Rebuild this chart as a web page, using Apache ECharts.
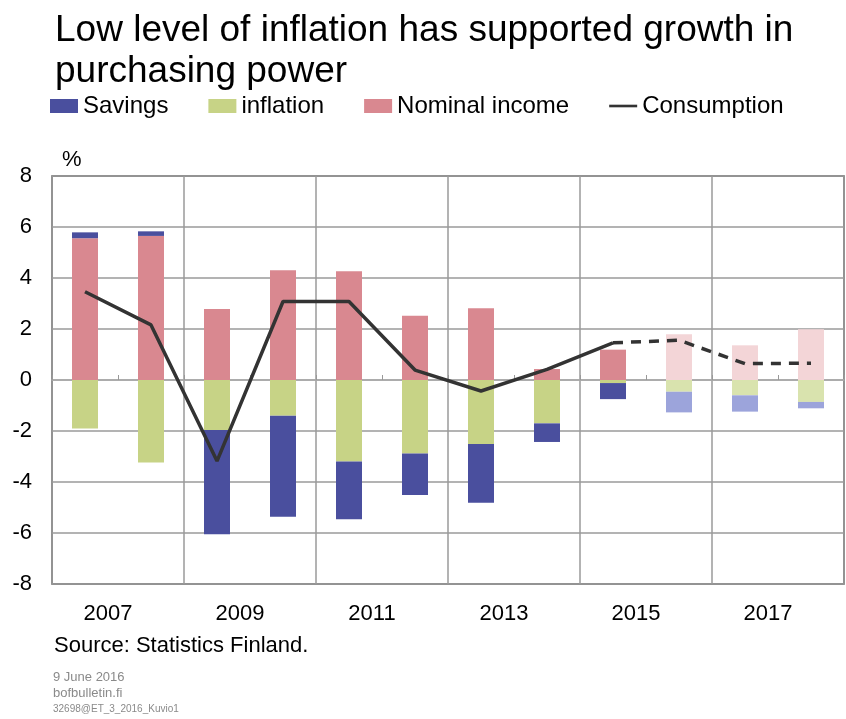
<!DOCTYPE html>
<html>
<head>
<meta charset="utf-8">
<script src="https://cdn.jsdelivr.net/npm/echarts@6/dist/echarts.min.js"></script>
<style>
html,body{margin:0;padding:0;background:#fff;}
#chart{width:846px;height:719px;}
</style>
</head>
<body>
<div id="chart"></div>
<script>
// ---- Data ----
const years = ['2007','2008','2009','2010','2011','2012','2013','2014','2015','2016','2017','2018'];
const yearLabels = ['2007','2009','2011','2013','2015','2017'];
const nominalIncome = [5.56, 5.65, 2.78, 4.30, 4.26, 2.52, 2.81, 0.43, 1.19, 1.79, 1.36, 1.99];
const inflation     = [-1.90, -3.24, -1.96, -1.40, -3.20, -2.88, -2.51, -1.70, -0.12, -0.46, -0.60, -0.86];
const savings       = [0.23, 0.18, -4.09, -3.96, -2.26, -1.63, -2.30, -0.73, -0.63, -0.81, -0.64, -0.25];
const consumption   = [3.46, 2.16, -3.18, 3.08, 3.08, 0.39, -0.43, 0.42, 1.46, 1.56, 0.64, 0.66];
const yTicks = [-8, -6, -4, -2, 0, 2, 4, 6, 8];
const forecastFrom = 9;   // index of first forecast year (2016)
const lastActual = 8;     // 2015: last point of the solid line

const FONT = 'Liberation Sans, Arial, sans-serif';
const C = {
  sav: '#4A4F9E', savL: '#9CA4DB',
  inf: '#C7D386', infL: '#D9E3AE',
  nom: '#D98890', nomL: '#F3D5D7',
  line: '#333333'
};

function barData(vals, light) {
  return vals.map((v, i) => i >= forecastFrom ? { value: v, itemStyle: { color: light } } : v);
}
const solidLine = consumption.map((v, i) => i <= lastActual ? v : null);
const dashLine = consumption.map((v, i) => i >= lastActual ? v : null);

const chart = echarts.init(document.getElementById('chart'), null, { renderer: 'canvas' });
chart.setOption({
  animation: false,
  backgroundColor: '#fff',
  textStyle: { fontFamily: FONT },
  title: {
    text: 'Low level of inflation has supported growth in\npurchasing power',
    left: 55, top: 10, padding: 0,
    textStyle: { fontFamily: FONT, fontSize: 37, fontWeight: 'normal', color: '#000', lineHeight: 41 }
  },
  legend: {
    left: 50, top: 94, padding: 0,
    itemWidth: 28, itemHeight: 14, itemGap: 40,
    symbolKeepAspect: true,
    textStyle: { fontFamily: FONT, fontSize: 24, color: '#000' },
    data: [
      { name: 'Savings', icon: 'rect' },
      { name: 'inflation', icon: 'rect' },
      { name: 'Nominal income', icon: 'rect' },
      { name: 'Consumption', icon: 'path://M0,0 L32,0 L32,3 L0,3 Z' }
    ]
  },
  grid: {
    left: 52, right: 2, top: 176, bottom: 135,
    show: true, borderColor: '#555', borderWidth: 1.5, containLabel: false
  },
  xAxis: [
    {
      type: 'category', data: years, position: 'bottom',
      boundaryGap: true,
      axisLine: { show: true, onZero: true, lineStyle: { color: '#aaa', width: 1.5 } },
      axisTick: { show: true, inside: true, length: 5, lineStyle: { color: '#999' } },
      axisLabel: { show: false },
      splitLine: { show: false }
    },
    {
      type: 'category', data: yearLabels, position: 'bottom',
      boundaryGap: true,
      axisLine: { show: false, onZero: false },
      axisTick: { show: false },
      axisLabel: { show: true, fontFamily: FONT, fontSize: 22, color: '#000', margin: 19, padding: [0, 20, 0, 0] },
      splitLine: { show: true, lineStyle: { color: '#9a9a9a', width: 1.5 } }
    }
  ],
  yAxis: {
    type: 'value', min: yTicks[0], max: yTicks[yTicks.length - 1], interval: 2,
    axisLine: { show: false },
    axisTick: { show: false },
    axisLabel: { fontFamily: FONT, fontSize: 22, color: '#000', margin: 20 },
    splitLine: { show: true, lineStyle: { color: '#9a9a9a', width: 1.5 } }
  },
  series: [
    { name: 'Nominal income', type: 'bar', stack: 'total', xAxisIndex: 0, barWidth: 26,
      itemStyle: { color: C.nom }, data: barData(nominalIncome, C.nomL) },
    { name: 'inflation', type: 'bar', stack: 'total', xAxisIndex: 0, barWidth: 26,
      itemStyle: { color: C.inf }, data: barData(inflation, C.infL) },
    { name: 'Savings', type: 'bar', stack: 'total', xAxisIndex: 0, barWidth: 26,
      itemStyle: { color: C.sav }, data: barData(savings, C.savL) },
    { name: 'Consumption', type: 'line', xAxisIndex: 0, symbol: 'none', z: 5,
      lineStyle: { color: C.line, width: 3.5 }, itemStyle: { color: C.line },
      data: solidLine },
    { name: 'Consumption', type: 'line', xAxisIndex: 0, symbol: 'none', z: 5,
      lineStyle: { color: C.line, width: 3.5, type: [10, 8] }, itemStyle: { color: C.line },
      data: dashLine }
  ],
  graphic: [
    { type: 'text', left: 62, top: 149, style: { text: '%', font: '22px ' + FONT, fill: '#000' } },
    { type: 'text', left: 54, top: 635, style: { text: 'Source: Statistics Finland.', font: '22px ' + FONT, fill: '#000' } },
    { type: 'text', left: 53, top: 671, style: { text: '9 June 2016', font: '13px ' + FONT, fill: '#8a8a8a' } },
    { type: 'text', left: 53, top: 687, style: { text: 'bofbulletin.fi', font: '13px ' + FONT, fill: '#8a8a8a' } },
    { type: 'text', left: 53, top: 704, style: { text: '32698@ET_3_2016_Kuvio1', font: '10px ' + FONT, fill: '#8a8a8a' } }
  ]
});
</script>
</body>
</html>
